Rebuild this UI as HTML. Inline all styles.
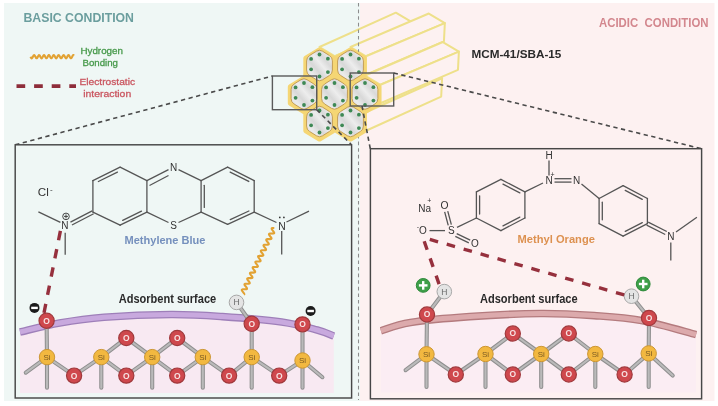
<!DOCTYPE html>
<html><head><meta charset="utf-8"><style>
html,body{margin:0;padding:0;background:#fff;}
svg{display:block;will-change:transform;}
svg text{font-family:"Liberation Sans", sans-serif;}
</style></head><body>
<svg width="718" height="406" viewBox="0 0 718 406">
<rect x="0" y="0" width="718" height="406" fill="#ffffff"/>
<rect x="4" y="3" width="356" height="398" fill="#eff7f5"/>
<rect x="360" y="3" width="354.5" height="398" fill="#fdf1f1"/>
<text x="23.5" y="22.4" font-size="13.3" fill="#6b9e9e" font-weight="bold" text-anchor="start" textLength="110.5" lengthAdjust="spacingAndGlyphs" >BASIC CONDITION</text>
<text x="599" y="26.7" font-size="12.6" fill="#d3878e" font-weight="bold" text-anchor="start" textLength="109.5" lengthAdjust="spacingAndGlyphs" >ACIDIC&#160;&#160;CONDITION</text>
<text x="471.4" y="57.9" font-size="11" fill="#2b2b2b" font-weight="bold" text-anchor="start" textLength="90" lengthAdjust="spacingAndGlyphs" >MCM-41/SBA-15</text>
<path d="M30.5 56.7 L30.75 57.2 L31 57.66 L31.25 58.01 L31.5 58.23 L31.75 58.3 L32 58.2 L32.25 57.95 L32.5 57.57 L32.75 57.11 L33 56.6 L33.25 56.1 L33.5 55.66 L33.75 55.33 L34 55.14 L34.25 55.11 L34.5 55.24 L34.75 55.52 L35 55.91 L35.25 56.39 L35.5 56.9 L35.75 57.39 L36 57.81 L36.25 58.12 L36.5 58.28 L36.75 58.28 L37 58.12 L37.25 57.81 L37.5 57.39 L37.75 56.9 L38 56.39 L38.25 55.91 L38.5 55.52 L38.75 55.24 L39 55.11 L39.25 55.14 L39.5 55.33 L39.75 55.66 L40 56.1 L40.25 56.6 L40.5 57.11 L40.75 57.57 L41 57.95 L41.25 58.2 L41.5 58.3 L41.75 58.23 L42 58.01 L42.25 57.66 L42.5 57.2 L42.75 56.7 L43 56.2 L43.25 55.74 L43.5 55.39 L43.75 55.17 L44 55.1 L44.25 55.2 L44.5 55.45 L44.75 55.83 L45 56.29 L45.25 56.8 L45.5 57.3 L45.75 57.74 L46 58.07 L46.25 58.26 L46.5 58.29 L46.75 58.16 L47 57.88 L47.25 57.49 L47.5 57.01 L47.75 56.5 L48 56.01 L48.25 55.59 L48.5 55.28 L48.75 55.12 L49 55.12 L49.25 55.28 L49.5 55.59 L49.75 56.01 L50 56.5 L50.25 57.01 L50.5 57.49 L50.75 57.88 L51 58.16 L51.25 58.29 L51.5 58.26 L51.75 58.07 L52 57.74 L52.25 57.3 L52.5 56.8 L52.75 56.29 L53 55.83 L53.25 55.45 L53.5 55.2 L53.75 55.1 L54 55.17 L54.25 55.39 L54.5 55.74 L54.75 56.2 L55 56.7 L55.25 57.2 L55.5 57.66 L55.75 58.01 L56 58.23 L56.25 58.3 L56.5 58.2 L56.75 57.95 L57 57.57 L57.25 57.11 L57.5 56.6 L57.75 56.1 L58 55.66 L58.25 55.33 L58.5 55.14 L58.75 55.11 L59 55.24 L59.25 55.52 L59.5 55.91 L59.75 56.39 L60 56.9 L60.25 57.39 L60.5 57.81 L60.75 58.12 L61 58.28 L61.25 58.28 L61.5 58.12 L61.75 57.81 L62 57.39 L62.25 56.9 L62.5 56.39 L62.75 55.91 L63 55.52 L63.25 55.24 L63.5 55.11 L63.75 55.14 L64 55.33 L64.25 55.66 L64.5 56.1 L64.75 56.6 L65 57.11 L65.25 57.57 L65.5 57.95 L65.75 58.2 L66 58.3 L66.25 58.23 L66.5 58.01 L66.75 57.66 L67 57.2 L67.25 56.7 L67.5 56.2 L67.75 55.74 L68 55.39 L68.25 55.17 L68.5 55.1 L68.75 55.2 L69 55.45 L69.25 55.83 L69.5 56.29 L69.75 56.8 L70 57.3 L70.25 57.74 L70.5 58.07 L70.75 58.26 L71 58.29 L71.25 58.16 L71.5 57.88 L71.75 57.49 L72 57.01 L72.25 56.5 L72.5 56.01 L72.75 55.59 L73 55.28 L73.25 55.12 L73.5 55.12 L73.75 55.28 L74 55.59" fill="none" stroke="#e2a233" stroke-width="2.1"/>
<text x="101.7" y="54.2" font-size="9.9" fill="#46994a" font-weight="normal" text-anchor="middle" textLength="42.5" lengthAdjust="spacingAndGlyphs" stroke="#46994a" stroke-width="0.3">Hydrogen</text>
<text x="100.2" y="65.7" font-size="9.9" fill="#46994a" font-weight="normal" text-anchor="middle" textLength="35.5" lengthAdjust="spacingAndGlyphs" stroke="#46994a" stroke-width="0.3">Bonding</text>
<line x1="16.5" y1="86.2" x2="76" y2="86.2" stroke="#8e2d3a" stroke-width="3.7" stroke-dasharray="8.7 8.9" stroke-dashoffset="0"/>
<text x="107.3" y="85.2" font-size="9.9" fill="#ca5660" font-weight="normal" text-anchor="middle" textLength="55.5" lengthAdjust="spacingAndGlyphs" stroke="#ca5660" stroke-width="0.3">Electrostatic</text>
<text x="107.2" y="97" font-size="9.9" fill="#ca5660" font-weight="normal" text-anchor="middle" textLength="48" lengthAdjust="spacingAndGlyphs" stroke="#ca5660" stroke-width="0.3">interaction</text>
<defs><linearGradient id="bgsplit" gradientUnits="userSpaceOnUse" x1="0" y1="0" x2="718" y2="0"><stop offset="0" stop-color="#eff7f5"/><stop offset="0.5014" stop-color="#eff7f5"/><stop offset="0.5014" stop-color="#fdf1f1"/><stop offset="1" stop-color="#fdf1f1"/></linearGradient><linearGradient id="hexfill" x1="0" y1="1" x2="1" y2="0"><stop offset="0" stop-color="#dedede"/><stop offset="0.22" stop-color="#ebebeb"/><stop offset="0.38" stop-color="#d8d8d8"/><stop offset="0.55" stop-color="#ededed"/><stop offset="0.7" stop-color="#d9d9d9"/><stop offset="0.85" stop-color="#eaeaea"/><stop offset="1" stop-color="#dcdcdc"/></linearGradient></defs>
<path d="M304 75.5 L319.5 84.75 L393.97 49.91 L377.93 40.36Z" fill="url(#bgsplit)" stroke="#eee08a" stroke-width="2" stroke-linejoin="round"/>
<path d="M319.5 84.75 L319.5 103.25 L393.06 68.15 L393.97 49.91Z" fill="url(#bgsplit)" stroke="#eee08a" stroke-width="2" stroke-linejoin="round"/>
<path d="M319.5 103 L335 112.25 L409.11 77.45 L393.07 67.9Z" fill="url(#bgsplit)" stroke="#eee08a" stroke-width="2" stroke-linejoin="round"/>
<path d="M335 112.25 L335 130.75 L408.2 95.69 L409.11 77.45Z" fill="url(#bgsplit)" stroke="#eee08a" stroke-width="2" stroke-linejoin="round"/>
<path d="M319.5 47 L335 56.25 L411.86 22.23 L395.83 12.68Z" fill="url(#bgsplit)" stroke="#eee08a" stroke-width="2" stroke-linejoin="round"/>
<path d="M335 56.25 L335 74.75 L410.96 40.47 L411.86 22.23Z" fill="url(#bgsplit)" stroke="#eee08a" stroke-width="2" stroke-linejoin="round"/>
<path d="M334.5 75.5 L350 84.75 L426.43 50.74 L410.39 41.2Z" fill="url(#bgsplit)" stroke="#eee08a" stroke-width="2" stroke-linejoin="round"/>
<path d="M350 84.75 L350 103.25 L425.52 68.99 L426.43 50.74Z" fill="url(#bgsplit)" stroke="#eee08a" stroke-width="2" stroke-linejoin="round"/>
<path d="M350.5 103 L366 112.25 L442.1 78.3 L426.06 68.75Z" fill="url(#bgsplit)" stroke="#eee08a" stroke-width="2" stroke-linejoin="round"/>
<path d="M366 112.25 L366 130.75 L441.19 96.54 L442.1 78.3Z" fill="url(#bgsplit)" stroke="#eee08a" stroke-width="2" stroke-linejoin="round"/>
<path d="M350.5 47 L366 56.25 L444.85 23.08 L428.81 13.53Z" fill="url(#bgsplit)" stroke="#eee08a" stroke-width="2" stroke-linejoin="round"/>
<path d="M366 56.25 L366 74.75 L443.94 41.32 L444.85 23.08Z" fill="url(#bgsplit)" stroke="#eee08a" stroke-width="2" stroke-linejoin="round"/>
<path d="M365 75.5 L380.5 84.75 L458.88 51.58 L442.84 42.03Z" fill="url(#bgsplit)" stroke="#eee08a" stroke-width="2" stroke-linejoin="round"/>
<path d="M380.5 84.75 L380.5 103.25 L457.97 69.82 L458.88 51.58Z" fill="url(#bgsplit)" stroke="#eee08a" stroke-width="2" stroke-linejoin="round"/>
<line x1="358.5" y1="3" x2="358.5" y2="400" stroke="#8d8d8d" stroke-width="1.05" stroke-dasharray="3.6 3"/>
<path d="M318.21 47.77 Q319.5 47 320.79 47.77 L334.41 55.98 Q335.7 56.75 335.7 58.25 L335.7 74.75 Q335.7 76.25 334.41 77.02 L320.79 85.23 Q319.5 86 318.21 85.23 L304.59 77.02 Q303.3 76.25 303.3 74.75 L303.3 58.25 Q303.3 56.75 304.59 55.98Z" fill="#f5d674"/>
<path d="M349.21 47.77 Q350.5 47 351.79 47.77 L365.41 55.98 Q366.7 56.75 366.7 58.25 L366.7 74.75 Q366.7 76.25 365.41 77.02 L351.79 85.23 Q350.5 86 349.21 85.23 L335.59 77.02 Q334.3 76.25 334.3 74.75 L334.3 58.25 Q334.3 56.75 335.59 55.98Z" fill="#f5d674"/>
<path d="M302.71 76.27 Q304 75.5 305.29 76.27 L318.91 84.48 Q320.2 85.25 320.2 86.75 L320.2 103.25 Q320.2 104.75 318.91 105.52 L305.29 113.73 Q304 114.5 302.71 113.73 L289.09 105.52 Q287.8 104.75 287.8 103.25 L287.8 86.75 Q287.8 85.25 289.09 84.48Z" fill="#f5d674"/>
<path d="M333.21 76.27 Q334.5 75.5 335.79 76.27 L349.41 84.48 Q350.7 85.25 350.7 86.75 L350.7 103.25 Q350.7 104.75 349.41 105.52 L335.79 113.73 Q334.5 114.5 333.21 113.73 L319.59 105.52 Q318.3 104.75 318.3 103.25 L318.3 86.75 Q318.3 85.25 319.59 84.48Z" fill="#f5d674"/>
<path d="M363.71 76.27 Q365 75.5 366.29 76.27 L379.91 84.48 Q381.2 85.25 381.2 86.75 L381.2 103.25 Q381.2 104.75 379.91 105.52 L366.29 113.73 Q365 114.5 363.71 113.73 L350.09 105.52 Q348.8 104.75 348.8 103.25 L348.8 86.75 Q348.8 85.25 350.09 84.48Z" fill="#f5d674"/>
<path d="M318.21 103.77 Q319.5 103 320.79 103.77 L334.41 111.98 Q335.7 112.75 335.7 114.25 L335.7 130.75 Q335.7 132.25 334.41 133.02 L320.79 141.23 Q319.5 142 318.21 141.23 L304.59 133.02 Q303.3 132.25 303.3 130.75 L303.3 114.25 Q303.3 112.75 304.59 111.98Z" fill="#f5d674"/>
<path d="M349.21 103.77 Q350.5 103 351.79 103.77 L365.41 111.98 Q366.7 112.75 366.7 114.25 L366.7 130.75 Q366.7 132.25 365.41 133.02 L351.79 141.23 Q350.5 142 349.21 141.23 L335.59 133.02 Q334.3 132.25 334.3 130.75 L334.3 114.25 Q334.3 112.75 335.59 111.98Z" fill="#f5d674"/>
<path d="M316.54 51.16 Q319.5 49.3 322.46 51.16 L329.44 55.54 Q332.4 57.4 332.4 60.9 L332.4 70.1 Q332.4 73.6 329.44 75.46 L322.46 79.84 Q319.5 81.7 316.54 79.84 L309.56 75.46 Q306.6 73.6 306.6 70.1 L306.6 60.9 Q306.6 57.4 309.56 55.54Z" fill="url(#hexfill)" stroke="#c39d55" stroke-width="1"/>
<circle cx="319.5" cy="54.5" r="1.9" fill="#3e8955"/>
<circle cx="311.1" cy="58.9" r="1.9" fill="#3e8955"/>
<circle cx="327.9" cy="58.7" r="1.9" fill="#3e8955"/>
<circle cx="311.1" cy="69.3" r="1.9" fill="#3e8955"/>
<circle cx="327.9" cy="72.1" r="1.9" fill="#3e8955"/>
<circle cx="319.5" cy="76.5" r="1.9" fill="#3e8955"/>
<path d="M347.54 51.16 Q350.5 49.3 353.46 51.16 L360.44 55.54 Q363.4 57.4 363.4 60.9 L363.4 70.1 Q363.4 73.6 360.44 75.46 L353.46 79.84 Q350.5 81.7 347.54 79.84 L340.56 75.46 Q337.6 73.6 337.6 70.1 L337.6 60.9 Q337.6 57.4 340.56 55.54Z" fill="url(#hexfill)" stroke="#c39d55" stroke-width="1"/>
<circle cx="350.5" cy="54.5" r="1.9" fill="#3e8955"/>
<circle cx="342.1" cy="58.9" r="1.9" fill="#3e8955"/>
<circle cx="358.9" cy="58.7" r="1.9" fill="#3e8955"/>
<circle cx="342.1" cy="69.3" r="1.9" fill="#3e8955"/>
<circle cx="358.9" cy="72.1" r="1.9" fill="#3e8955"/>
<circle cx="350.5" cy="76.5" r="1.9" fill="#3e8955"/>
<path d="M301.04 79.66 Q304 77.8 306.96 79.66 L313.94 84.04 Q316.9 85.9 316.9 89.4 L316.9 98.6 Q316.9 102.1 313.94 103.96 L306.96 108.34 Q304 110.2 301.04 108.34 L294.06 103.96 Q291.1 102.1 291.1 98.6 L291.1 89.4 Q291.1 85.9 294.06 84.04Z" fill="url(#hexfill)" stroke="#c39d55" stroke-width="1"/>
<circle cx="304" cy="83" r="1.9" fill="#3e8955"/>
<circle cx="295.6" cy="87.4" r="1.9" fill="#3e8955"/>
<circle cx="312.4" cy="87.2" r="1.9" fill="#3e8955"/>
<circle cx="295.6" cy="97.8" r="1.9" fill="#3e8955"/>
<circle cx="312.4" cy="100.6" r="1.9" fill="#3e8955"/>
<circle cx="304" cy="105" r="1.9" fill="#3e8955"/>
<path d="M331.54 79.66 Q334.5 77.8 337.46 79.66 L344.44 84.04 Q347.4 85.9 347.4 89.4 L347.4 98.6 Q347.4 102.1 344.44 103.96 L337.46 108.34 Q334.5 110.2 331.54 108.34 L324.56 103.96 Q321.6 102.1 321.6 98.6 L321.6 89.4 Q321.6 85.9 324.56 84.04Z" fill="url(#hexfill)" stroke="#c39d55" stroke-width="1"/>
<circle cx="334.5" cy="83" r="1.9" fill="#3e8955"/>
<circle cx="326.1" cy="87.4" r="1.9" fill="#3e8955"/>
<circle cx="342.9" cy="87.2" r="1.9" fill="#3e8955"/>
<circle cx="326.1" cy="97.8" r="1.9" fill="#3e8955"/>
<circle cx="342.9" cy="100.6" r="1.9" fill="#3e8955"/>
<circle cx="334.5" cy="105" r="1.9" fill="#3e8955"/>
<path d="M362.04 79.66 Q365 77.8 367.96 79.66 L374.94 84.04 Q377.9 85.9 377.9 89.4 L377.9 98.6 Q377.9 102.1 374.94 103.96 L367.96 108.34 Q365 110.2 362.04 108.34 L355.06 103.96 Q352.1 102.1 352.1 98.6 L352.1 89.4 Q352.1 85.9 355.06 84.04Z" fill="url(#hexfill)" stroke="#c39d55" stroke-width="1"/>
<circle cx="365" cy="83" r="1.9" fill="#3e8955"/>
<circle cx="356.6" cy="87.4" r="1.9" fill="#3e8955"/>
<circle cx="373.4" cy="87.2" r="1.9" fill="#3e8955"/>
<circle cx="356.6" cy="97.8" r="1.9" fill="#3e8955"/>
<circle cx="373.4" cy="100.6" r="1.9" fill="#3e8955"/>
<circle cx="365" cy="105" r="1.9" fill="#3e8955"/>
<path d="M316.54 107.16 Q319.5 105.3 322.46 107.16 L329.44 111.54 Q332.4 113.4 332.4 116.9 L332.4 126.1 Q332.4 129.6 329.44 131.46 L322.46 135.84 Q319.5 137.7 316.54 135.84 L309.56 131.46 Q306.6 129.6 306.6 126.1 L306.6 116.9 Q306.6 113.4 309.56 111.54Z" fill="url(#hexfill)" stroke="#c39d55" stroke-width="1"/>
<circle cx="319.5" cy="110.5" r="1.9" fill="#3e8955"/>
<circle cx="311.1" cy="114.9" r="1.9" fill="#3e8955"/>
<circle cx="327.9" cy="114.7" r="1.9" fill="#3e8955"/>
<circle cx="311.1" cy="125.3" r="1.9" fill="#3e8955"/>
<circle cx="327.9" cy="128.1" r="1.9" fill="#3e8955"/>
<circle cx="319.5" cy="132.5" r="1.9" fill="#3e8955"/>
<path d="M347.54 107.16 Q350.5 105.3 353.46 107.16 L360.44 111.54 Q363.4 113.4 363.4 116.9 L363.4 126.1 Q363.4 129.6 360.44 131.46 L353.46 135.84 Q350.5 137.7 347.54 135.84 L340.56 131.46 Q337.6 129.6 337.6 126.1 L337.6 116.9 Q337.6 113.4 340.56 111.54Z" fill="url(#hexfill)" stroke="#c39d55" stroke-width="1"/>
<circle cx="350.5" cy="110.5" r="1.9" fill="#3e8955"/>
<circle cx="342.1" cy="114.9" r="1.9" fill="#3e8955"/>
<circle cx="358.9" cy="114.7" r="1.9" fill="#3e8955"/>
<circle cx="342.1" cy="125.3" r="1.9" fill="#3e8955"/>
<circle cx="358.9" cy="128.1" r="1.9" fill="#3e8955"/>
<circle cx="350.5" cy="132.5" r="1.9" fill="#3e8955"/>
<rect x="272.4" y="76" width="44.3" height="33.7" fill="none" stroke="#5a5a5a" stroke-width="1.4"/>
<rect x="350.2" y="73" width="43.5" height="33" fill="none" stroke="#5a5a5a" stroke-width="1.4"/>
<line x1="15.2" y1="144.8" x2="272.4" y2="76" stroke="#4a4a4a" stroke-width="1.6" stroke-dasharray="4.3 3.5"/>
<line x1="316.7" y1="109.7" x2="351.5" y2="144.8" stroke="#4a4a4a" stroke-width="1.6" stroke-dasharray="4.3 3.5"/>
<line x1="362" y1="106" x2="370.3" y2="148.7" stroke="#4a4a4a" stroke-width="1.6" stroke-dasharray="4.3 3.5"/>
<line x1="393.7" y1="73" x2="701.6" y2="148.7" stroke="#4a4a4a" stroke-width="1.6" stroke-dasharray="4.3 3.5"/>
<rect x="15.2" y="144.8" width="336.4" height="253.2" fill="#eff7f5" stroke="#474747" stroke-width="1.45"/>
<rect x="370.4" y="148.7" width="331.2" height="250.1" fill="#fdf1f1" stroke="#474747" stroke-width="1.45"/>
<path d="M20 332 C26.6 330.5 45.6 325.47 59.6 323 C73.6 320.53 85.43 318.62 104 317.2 C122.57 315.78 151.27 314.6 171 314.5 C190.73 314.4 203.97 315.35 222.4 316.6 C240.83 317.85 265.8 319.77 281.6 322 C297.4 324.23 308.5 327.67 317.2 330 C325.9 332.33 331.03 335 333.8 336 L333.8 393 L20 393 Z" fill="#f8e9f2"/>
<path d="M20 332 C26.6 330.5 45.6 325.47 59.6 323 C73.6 320.53 85.43 318.62 104 317.2 C122.57 315.78 151.27 314.6 171 314.5 C190.73 314.4 203.97 315.35 222.4 316.6 C240.83 317.85 265.8 319.77 281.6 322 C297.4 324.23 308.5 327.67 317.2 330 C325.9 332.33 331.03 335 333.8 336" fill="none" stroke="#9e7fb9" stroke-width="7.6"/>
<path d="M20 332 C26.6 330.5 45.6 325.47 59.6 323 C73.6 320.53 85.43 318.62 104 317.2 C122.57 315.78 151.27 314.6 171 314.5 C190.73 314.4 203.97 315.35 222.4 316.6 C240.83 317.85 265.8 319.77 281.6 322 C297.4 324.23 308.5 327.67 317.2 330 C325.9 332.33 331.03 335 333.8 336" fill="none" stroke="#c8a9de" stroke-width="5"/>
<path d="M380.9 330.8 C385.83 329.42 395.68 324.87 410.5 322.5 C425.32 320.13 448.07 318.1 469.8 316.6 C491.53 315.1 520.17 313.67 540.9 313.5 C561.63 313.33 577.42 314.42 594.2 315.6 C610.98 316.78 624.62 317.43 641.6 320.6 C658.58 323.77 687.02 332.27 696.1 334.6 L696.1 392.5 L380.9 392.5 Z" fill="#fbedf3"/>
<path d="M380.9 330.8 C385.83 329.42 395.68 324.87 410.5 322.5 C425.32 320.13 448.07 318.1 469.8 316.6 C491.53 315.1 520.17 313.67 540.9 313.5 C561.63 313.33 577.42 314.42 594.2 315.6 C610.98 316.78 624.62 317.43 641.6 320.6 C658.58 323.77 687.02 332.27 696.1 334.6" fill="none" stroke="#b47b7e" stroke-width="7.6"/>
<path d="M380.9 330.8 C385.83 329.42 395.68 324.87 410.5 322.5 C425.32 320.13 448.07 318.1 469.8 316.6 C491.53 315.1 520.17 313.67 540.9 313.5 C561.63 313.33 577.42 314.42 594.2 315.6 C610.98 316.78 624.62 317.43 641.6 320.6 C658.58 323.77 687.02 332.27 696.1 334.6" fill="none" stroke="#dcaaac" stroke-width="5"/>
<line x1="47" y1="357.1" x2="47" y2="387.7" stroke="#8e8e8e" stroke-width="4.1" stroke-linecap="round"/>
<line x1="47" y1="357.1" x2="47" y2="387.7" stroke="#bababa" stroke-width="2.1" stroke-linecap="round"/>
<line x1="101.3" y1="357.1" x2="101.3" y2="387.7" stroke="#8e8e8e" stroke-width="4.1" stroke-linecap="round"/>
<line x1="101.3" y1="357.1" x2="101.3" y2="387.7" stroke="#bababa" stroke-width="2.1" stroke-linecap="round"/>
<line x1="152.2" y1="357.1" x2="152.2" y2="387.7" stroke="#8e8e8e" stroke-width="4.1" stroke-linecap="round"/>
<line x1="152.2" y1="357.1" x2="152.2" y2="387.7" stroke="#bababa" stroke-width="2.1" stroke-linecap="round"/>
<line x1="202.8" y1="357.1" x2="202.8" y2="387.7" stroke="#8e8e8e" stroke-width="4.1" stroke-linecap="round"/>
<line x1="202.8" y1="357.1" x2="202.8" y2="387.7" stroke="#bababa" stroke-width="2.1" stroke-linecap="round"/>
<line x1="251.7" y1="357.1" x2="251.7" y2="387.7" stroke="#8e8e8e" stroke-width="4.1" stroke-linecap="round"/>
<line x1="251.7" y1="357.1" x2="251.7" y2="387.7" stroke="#bababa" stroke-width="2.1" stroke-linecap="round"/>
<line x1="302.5" y1="360.5" x2="302.5" y2="387.7" stroke="#8e8e8e" stroke-width="4.1" stroke-linecap="round"/>
<line x1="302.5" y1="360.5" x2="302.5" y2="387.7" stroke="#bababa" stroke-width="2.1" stroke-linecap="round"/>
<line x1="47" y1="357.1" x2="25.8" y2="372.7" stroke="#8e8e8e" stroke-width="4.1" stroke-linecap="round"/>
<line x1="47" y1="357.1" x2="25.8" y2="372.7" stroke="#bababa" stroke-width="2.1" stroke-linecap="round"/>
<line x1="302.5" y1="360.5" x2="322.4" y2="377.2" stroke="#8e8e8e" stroke-width="4.1" stroke-linecap="round"/>
<line x1="302.5" y1="360.5" x2="322.4" y2="377.2" stroke="#bababa" stroke-width="2.1" stroke-linecap="round"/>
<line x1="47" y1="357.1" x2="46.6" y2="320.8" stroke="#8e8e8e" stroke-width="4.1" stroke-linecap="round"/>
<line x1="47" y1="357.1" x2="46.6" y2="320.8" stroke="#bababa" stroke-width="2.1" stroke-linecap="round"/>
<line x1="251.7" y1="357.1" x2="251.7" y2="323.8" stroke="#8e8e8e" stroke-width="4.1" stroke-linecap="round"/>
<line x1="251.7" y1="357.1" x2="251.7" y2="323.8" stroke="#bababa" stroke-width="2.1" stroke-linecap="round"/>
<line x1="302.5" y1="360.5" x2="302.5" y2="324.4" stroke="#8e8e8e" stroke-width="4.1" stroke-linecap="round"/>
<line x1="302.5" y1="360.5" x2="302.5" y2="324.4" stroke="#bababa" stroke-width="2.1" stroke-linecap="round"/>
<line x1="251.7" y1="323.8" x2="236.5" y2="302.4" stroke="#8e8e8e" stroke-width="4.1" stroke-linecap="round"/>
<line x1="251.7" y1="323.8" x2="236.5" y2="302.4" stroke="#bababa" stroke-width="2.1" stroke-linecap="round"/>
<line x1="47" y1="357.1" x2="74.1" y2="375.6" stroke="#8e8e8e" stroke-width="4.1" stroke-linecap="round"/>
<line x1="47" y1="357.1" x2="74.1" y2="375.6" stroke="#bababa" stroke-width="2.1" stroke-linecap="round"/>
<line x1="74.1" y1="375.6" x2="101.3" y2="357.1" stroke="#8e8e8e" stroke-width="4.1" stroke-linecap="round"/>
<line x1="74.1" y1="375.6" x2="101.3" y2="357.1" stroke="#bababa" stroke-width="2.1" stroke-linecap="round"/>
<line x1="101.3" y1="357.1" x2="126.3" y2="338" stroke="#8e8e8e" stroke-width="4.1" stroke-linecap="round"/>
<line x1="101.3" y1="357.1" x2="126.3" y2="338" stroke="#bababa" stroke-width="2.1" stroke-linecap="round"/>
<line x1="126.3" y1="338" x2="152.2" y2="357.1" stroke="#8e8e8e" stroke-width="4.1" stroke-linecap="round"/>
<line x1="126.3" y1="338" x2="152.2" y2="357.1" stroke="#bababa" stroke-width="2.1" stroke-linecap="round"/>
<line x1="101.3" y1="357.1" x2="126.3" y2="375.6" stroke="#8e8e8e" stroke-width="4.1" stroke-linecap="round"/>
<line x1="101.3" y1="357.1" x2="126.3" y2="375.6" stroke="#bababa" stroke-width="2.1" stroke-linecap="round"/>
<line x1="126.3" y1="375.6" x2="152.2" y2="357.1" stroke="#8e8e8e" stroke-width="4.1" stroke-linecap="round"/>
<line x1="126.3" y1="375.6" x2="152.2" y2="357.1" stroke="#bababa" stroke-width="2.1" stroke-linecap="round"/>
<line x1="152.2" y1="357.1" x2="177.2" y2="338" stroke="#8e8e8e" stroke-width="4.1" stroke-linecap="round"/>
<line x1="152.2" y1="357.1" x2="177.2" y2="338" stroke="#bababa" stroke-width="2.1" stroke-linecap="round"/>
<line x1="177.2" y1="338" x2="202.8" y2="357.1" stroke="#8e8e8e" stroke-width="4.1" stroke-linecap="round"/>
<line x1="177.2" y1="338" x2="202.8" y2="357.1" stroke="#bababa" stroke-width="2.1" stroke-linecap="round"/>
<line x1="152.2" y1="357.1" x2="177.2" y2="375.6" stroke="#8e8e8e" stroke-width="4.1" stroke-linecap="round"/>
<line x1="152.2" y1="357.1" x2="177.2" y2="375.6" stroke="#bababa" stroke-width="2.1" stroke-linecap="round"/>
<line x1="177.2" y1="375.6" x2="202.8" y2="357.1" stroke="#8e8e8e" stroke-width="4.1" stroke-linecap="round"/>
<line x1="177.2" y1="375.6" x2="202.8" y2="357.1" stroke="#bababa" stroke-width="2.1" stroke-linecap="round"/>
<line x1="202.8" y1="357.1" x2="229.1" y2="375.6" stroke="#8e8e8e" stroke-width="4.1" stroke-linecap="round"/>
<line x1="202.8" y1="357.1" x2="229.1" y2="375.6" stroke="#bababa" stroke-width="2.1" stroke-linecap="round"/>
<line x1="229.1" y1="375.6" x2="251.7" y2="357.1" stroke="#8e8e8e" stroke-width="4.1" stroke-linecap="round"/>
<line x1="229.1" y1="375.6" x2="251.7" y2="357.1" stroke="#bababa" stroke-width="2.1" stroke-linecap="round"/>
<line x1="251.7" y1="357.1" x2="279.2" y2="375.6" stroke="#8e8e8e" stroke-width="4.1" stroke-linecap="round"/>
<line x1="251.7" y1="357.1" x2="279.2" y2="375.6" stroke="#bababa" stroke-width="2.1" stroke-linecap="round"/>
<line x1="279.2" y1="375.6" x2="302.5" y2="360.5" stroke="#8e8e8e" stroke-width="4.1" stroke-linecap="round"/>
<line x1="279.2" y1="375.6" x2="302.5" y2="360.5" stroke="#bababa" stroke-width="2.1" stroke-linecap="round"/>
<circle cx="126.3" cy="338" r="7.6" fill="#cf484d" stroke="#a0393c" stroke-width="1.2"/>
<text x="126.3" y="340.9" font-size="8.5" fill="#f7e2e2" text-anchor="middle" font-weight="bold">O</text>
<circle cx="177.2" cy="338" r="7.6" fill="#cf484d" stroke="#a0393c" stroke-width="1.2"/>
<text x="177.2" y="340.9" font-size="8.5" fill="#f7e2e2" text-anchor="middle" font-weight="bold">O</text>
<circle cx="74.1" cy="375.6" r="7.6" fill="#cf484d" stroke="#a0393c" stroke-width="1.2"/>
<text x="74.1" y="378.5" font-size="8.5" fill="#f7e2e2" text-anchor="middle" font-weight="bold">O</text>
<circle cx="126.3" cy="375.6" r="7.6" fill="#cf484d" stroke="#a0393c" stroke-width="1.2"/>
<text x="126.3" y="378.5" font-size="8.5" fill="#f7e2e2" text-anchor="middle" font-weight="bold">O</text>
<circle cx="177.2" cy="375.6" r="7.6" fill="#cf484d" stroke="#a0393c" stroke-width="1.2"/>
<text x="177.2" y="378.5" font-size="8.5" fill="#f7e2e2" text-anchor="middle" font-weight="bold">O</text>
<circle cx="229.1" cy="375.6" r="7.6" fill="#cf484d" stroke="#a0393c" stroke-width="1.2"/>
<text x="229.1" y="378.5" font-size="8.5" fill="#f7e2e2" text-anchor="middle" font-weight="bold">O</text>
<circle cx="279.2" cy="375.6" r="7.6" fill="#cf484d" stroke="#a0393c" stroke-width="1.2"/>
<text x="279.2" y="378.5" font-size="8.5" fill="#f7e2e2" text-anchor="middle" font-weight="bold">O</text>
<circle cx="46.6" cy="320.8" r="7.6" fill="#cf484d" stroke="#a0393c" stroke-width="1.2"/>
<text x="46.6" y="323.7" font-size="8.5" fill="#f7e2e2" text-anchor="middle" font-weight="bold">O</text>
<circle cx="251.7" cy="323.8" r="7.6" fill="#cf484d" stroke="#a0393c" stroke-width="1.2"/>
<text x="251.7" y="326.7" font-size="8.5" fill="#f7e2e2" text-anchor="middle" font-weight="bold">O</text>
<circle cx="302.5" cy="324.4" r="7.6" fill="#cf484d" stroke="#a0393c" stroke-width="1.2"/>
<text x="302.5" y="327.3" font-size="8.5" fill="#f7e2e2" text-anchor="middle" font-weight="bold">O</text>
<circle cx="47" cy="357.1" r="7.7" fill="#f2b840" stroke="#cc9633" stroke-width="1"/>
<text x="47" y="359.9" font-size="8" fill="#7a5a22" text-anchor="middle">Si</text>
<circle cx="101.3" cy="357.1" r="7.7" fill="#f2b840" stroke="#cc9633" stroke-width="1"/>
<text x="101.3" y="359.9" font-size="8" fill="#7a5a22" text-anchor="middle">Si</text>
<circle cx="152.2" cy="357.1" r="7.7" fill="#f2b840" stroke="#cc9633" stroke-width="1"/>
<text x="152.2" y="359.9" font-size="8" fill="#7a5a22" text-anchor="middle">Si</text>
<circle cx="202.8" cy="357.1" r="7.7" fill="#f2b840" stroke="#cc9633" stroke-width="1"/>
<text x="202.8" y="359.9" font-size="8" fill="#7a5a22" text-anchor="middle">Si</text>
<circle cx="251.7" cy="357.1" r="7.7" fill="#f2b840" stroke="#cc9633" stroke-width="1"/>
<text x="251.7" y="359.9" font-size="8" fill="#7a5a22" text-anchor="middle">Si</text>
<circle cx="302.5" cy="360.5" r="7.7" fill="#f2b840" stroke="#cc9633" stroke-width="1"/>
<text x="302.5" y="363.3" font-size="8" fill="#7a5a22" text-anchor="middle">Si</text>
<circle cx="236.5" cy="302.4" r="7.3" fill="#e4e4e4" stroke="#a8a8a8" stroke-width="1"/>
<text x="236.5" y="305.4" font-size="8.5" fill="#6a6a6a" text-anchor="middle">H</text>
<circle cx="34.5" cy="307.9" r="5" fill="#1b1b1b"/>
<rect x="31.2" y="306.7" width="6.6" height="2.4" fill="#fff"/>
<circle cx="310.6" cy="311" r="5" fill="#1b1b1b"/>
<rect x="307.3" y="309.8" width="6.6" height="2.4" fill="#fff"/>
<line x1="426.5" y1="354.3" x2="426.5" y2="387" stroke="#8e8e8e" stroke-width="4.1" stroke-linecap="round"/>
<line x1="426.5" y1="354.3" x2="426.5" y2="387" stroke="#bababa" stroke-width="2.1" stroke-linecap="round"/>
<line x1="485.5" y1="354" x2="485.5" y2="387" stroke="#8e8e8e" stroke-width="4.1" stroke-linecap="round"/>
<line x1="485.5" y1="354" x2="485.5" y2="387" stroke="#bababa" stroke-width="2.1" stroke-linecap="round"/>
<line x1="541.2" y1="354" x2="541.2" y2="387" stroke="#8e8e8e" stroke-width="4.1" stroke-linecap="round"/>
<line x1="541.2" y1="354" x2="541.2" y2="387" stroke="#bababa" stroke-width="2.1" stroke-linecap="round"/>
<line x1="595.3" y1="354" x2="595.3" y2="387" stroke="#8e8e8e" stroke-width="4.1" stroke-linecap="round"/>
<line x1="595.3" y1="354" x2="595.3" y2="387" stroke="#bababa" stroke-width="2.1" stroke-linecap="round"/>
<line x1="648.7" y1="353.4" x2="648.7" y2="387" stroke="#8e8e8e" stroke-width="4.1" stroke-linecap="round"/>
<line x1="648.7" y1="353.4" x2="648.7" y2="387" stroke="#bababa" stroke-width="2.1" stroke-linecap="round"/>
<line x1="426.5" y1="354.3" x2="405.6" y2="370.2" stroke="#8e8e8e" stroke-width="4.1" stroke-linecap="round"/>
<line x1="426.5" y1="354.3" x2="405.6" y2="370.2" stroke="#bababa" stroke-width="2.1" stroke-linecap="round"/>
<line x1="648.7" y1="353.4" x2="672.7" y2="375.6" stroke="#8e8e8e" stroke-width="4.1" stroke-linecap="round"/>
<line x1="648.7" y1="353.4" x2="672.7" y2="375.6" stroke="#bababa" stroke-width="2.1" stroke-linecap="round"/>
<line x1="426.5" y1="354.3" x2="427" y2="314.5" stroke="#8e8e8e" stroke-width="4.1" stroke-linecap="round"/>
<line x1="426.5" y1="354.3" x2="427" y2="314.5" stroke="#bababa" stroke-width="2.1" stroke-linecap="round"/>
<line x1="648.7" y1="353.4" x2="649" y2="318" stroke="#8e8e8e" stroke-width="4.1" stroke-linecap="round"/>
<line x1="648.7" y1="353.4" x2="649" y2="318" stroke="#bababa" stroke-width="2.1" stroke-linecap="round"/>
<line x1="427" y1="314.5" x2="444.3" y2="291.6" stroke="#8e8e8e" stroke-width="4.1" stroke-linecap="round"/>
<line x1="427" y1="314.5" x2="444.3" y2="291.6" stroke="#bababa" stroke-width="2.1" stroke-linecap="round"/>
<line x1="649" y1="318" x2="631.5" y2="296.2" stroke="#8e8e8e" stroke-width="4.1" stroke-linecap="round"/>
<line x1="649" y1="318" x2="631.5" y2="296.2" stroke="#bababa" stroke-width="2.1" stroke-linecap="round"/>
<line x1="426.5" y1="354.3" x2="455.8" y2="374.5" stroke="#8e8e8e" stroke-width="4.1" stroke-linecap="round"/>
<line x1="426.5" y1="354.3" x2="455.8" y2="374.5" stroke="#bababa" stroke-width="2.1" stroke-linecap="round"/>
<line x1="455.8" y1="374.5" x2="485.5" y2="354" stroke="#8e8e8e" stroke-width="4.1" stroke-linecap="round"/>
<line x1="455.8" y1="374.5" x2="485.5" y2="354" stroke="#bababa" stroke-width="2.1" stroke-linecap="round"/>
<line x1="485.5" y1="354" x2="512.8" y2="333.5" stroke="#8e8e8e" stroke-width="4.1" stroke-linecap="round"/>
<line x1="485.5" y1="354" x2="512.8" y2="333.5" stroke="#bababa" stroke-width="2.1" stroke-linecap="round"/>
<line x1="512.8" y1="333.5" x2="541.2" y2="354" stroke="#8e8e8e" stroke-width="4.1" stroke-linecap="round"/>
<line x1="512.8" y1="333.5" x2="541.2" y2="354" stroke="#bababa" stroke-width="2.1" stroke-linecap="round"/>
<line x1="485.5" y1="354" x2="512.8" y2="374.5" stroke="#8e8e8e" stroke-width="4.1" stroke-linecap="round"/>
<line x1="485.5" y1="354" x2="512.8" y2="374.5" stroke="#bababa" stroke-width="2.1" stroke-linecap="round"/>
<line x1="512.8" y1="374.5" x2="541.2" y2="354" stroke="#8e8e8e" stroke-width="4.1" stroke-linecap="round"/>
<line x1="512.8" y1="374.5" x2="541.2" y2="354" stroke="#bababa" stroke-width="2.1" stroke-linecap="round"/>
<line x1="541.2" y1="354" x2="568.8" y2="333.5" stroke="#8e8e8e" stroke-width="4.1" stroke-linecap="round"/>
<line x1="541.2" y1="354" x2="568.8" y2="333.5" stroke="#bababa" stroke-width="2.1" stroke-linecap="round"/>
<line x1="568.8" y1="333.5" x2="595.3" y2="354" stroke="#8e8e8e" stroke-width="4.1" stroke-linecap="round"/>
<line x1="568.8" y1="333.5" x2="595.3" y2="354" stroke="#bababa" stroke-width="2.1" stroke-linecap="round"/>
<line x1="541.2" y1="354" x2="568.8" y2="374.5" stroke="#8e8e8e" stroke-width="4.1" stroke-linecap="round"/>
<line x1="541.2" y1="354" x2="568.8" y2="374.5" stroke="#bababa" stroke-width="2.1" stroke-linecap="round"/>
<line x1="568.8" y1="374.5" x2="595.3" y2="354" stroke="#8e8e8e" stroke-width="4.1" stroke-linecap="round"/>
<line x1="568.8" y1="374.5" x2="595.3" y2="354" stroke="#bababa" stroke-width="2.1" stroke-linecap="round"/>
<line x1="595.3" y1="354" x2="624.6" y2="374.5" stroke="#8e8e8e" stroke-width="4.1" stroke-linecap="round"/>
<line x1="595.3" y1="354" x2="624.6" y2="374.5" stroke="#bababa" stroke-width="2.1" stroke-linecap="round"/>
<line x1="624.6" y1="374.5" x2="648.7" y2="353.4" stroke="#8e8e8e" stroke-width="4.1" stroke-linecap="round"/>
<line x1="624.6" y1="374.5" x2="648.7" y2="353.4" stroke="#bababa" stroke-width="2.1" stroke-linecap="round"/>
<circle cx="512.8" cy="333.5" r="7.6" fill="#cf484d" stroke="#a0393c" stroke-width="1.2"/>
<text x="512.8" y="336.4" font-size="8.5" fill="#f7e2e2" text-anchor="middle" font-weight="bold">O</text>
<circle cx="568.8" cy="333.5" r="7.6" fill="#cf484d" stroke="#a0393c" stroke-width="1.2"/>
<text x="568.8" y="336.4" font-size="8.5" fill="#f7e2e2" text-anchor="middle" font-weight="bold">O</text>
<circle cx="455.8" cy="374.5" r="7.6" fill="#cf484d" stroke="#a0393c" stroke-width="1.2"/>
<text x="455.8" y="377.4" font-size="8.5" fill="#f7e2e2" text-anchor="middle" font-weight="bold">O</text>
<circle cx="512.8" cy="374.5" r="7.6" fill="#cf484d" stroke="#a0393c" stroke-width="1.2"/>
<text x="512.8" y="377.4" font-size="8.5" fill="#f7e2e2" text-anchor="middle" font-weight="bold">O</text>
<circle cx="568.8" cy="374.5" r="7.6" fill="#cf484d" stroke="#a0393c" stroke-width="1.2"/>
<text x="568.8" y="377.4" font-size="8.5" fill="#f7e2e2" text-anchor="middle" font-weight="bold">O</text>
<circle cx="624.6" cy="374.5" r="7.6" fill="#cf484d" stroke="#a0393c" stroke-width="1.2"/>
<text x="624.6" y="377.4" font-size="8.5" fill="#f7e2e2" text-anchor="middle" font-weight="bold">O</text>
<circle cx="427" cy="314.5" r="7.6" fill="#cf484d" stroke="#a0393c" stroke-width="1.2"/>
<text x="427" y="317.4" font-size="8.5" fill="#f7e2e2" text-anchor="middle" font-weight="bold">O</text>
<circle cx="649" cy="318" r="7.6" fill="#cf484d" stroke="#a0393c" stroke-width="1.2"/>
<text x="649" y="320.9" font-size="8.5" fill="#f7e2e2" text-anchor="middle" font-weight="bold">O</text>
<circle cx="426.5" cy="354.3" r="7.7" fill="#f2b840" stroke="#cc9633" stroke-width="1"/>
<text x="426.5" y="357.1" font-size="8" fill="#7a5a22" text-anchor="middle">Si</text>
<circle cx="485.5" cy="354" r="7.7" fill="#f2b840" stroke="#cc9633" stroke-width="1"/>
<text x="485.5" y="356.8" font-size="8" fill="#7a5a22" text-anchor="middle">Si</text>
<circle cx="541.2" cy="354" r="7.7" fill="#f2b840" stroke="#cc9633" stroke-width="1"/>
<text x="541.2" y="356.8" font-size="8" fill="#7a5a22" text-anchor="middle">Si</text>
<circle cx="595.3" cy="354" r="7.7" fill="#f2b840" stroke="#cc9633" stroke-width="1"/>
<text x="595.3" y="356.8" font-size="8" fill="#7a5a22" text-anchor="middle">Si</text>
<circle cx="648.7" cy="353.4" r="7.7" fill="#f2b840" stroke="#cc9633" stroke-width="1"/>
<text x="648.7" y="356.2" font-size="8" fill="#7a5a22" text-anchor="middle">Si</text>
<circle cx="444.3" cy="291.6" r="7.3" fill="#e4e4e4" stroke="#a8a8a8" stroke-width="1"/>
<text x="444.3" y="294.6" font-size="8.5" fill="#6a6a6a" text-anchor="middle">H</text>
<circle cx="631.5" cy="296.2" r="7.3" fill="#e4e4e4" stroke="#a8a8a8" stroke-width="1"/>
<text x="631.5" y="299.2" font-size="8.5" fill="#6a6a6a" text-anchor="middle">H</text>
<circle cx="423.2" cy="285.4" r="6.9" fill="#3e9f48" stroke="#2f8a3c" stroke-width="1"/>
<rect x="418.9" y="284.2" width="8.6" height="2.4" fill="#fff"/>
<rect x="422" y="281.1" width="2.4" height="8.6" fill="#fff"/>
<circle cx="643.2" cy="284" r="6.9" fill="#3e9f48" stroke="#2f8a3c" stroke-width="1"/>
<rect x="638.9" y="282.8" width="8.6" height="2.4" fill="#fff"/>
<rect x="642" y="279.7" width="2.4" height="8.6" fill="#fff"/>
<text x="118.7" y="302.9" font-size="12" fill="#2a2a2a" font-weight="bold" text-anchor="start" textLength="97.5" lengthAdjust="spacingAndGlyphs" >Adsorbent surface</text>
<text x="480" y="303" font-size="12" fill="#2a2a2a" font-weight="bold" text-anchor="start" textLength="97.6" lengthAdjust="spacingAndGlyphs" >Adsorbent surface</text>
<line x1="60.4" y1="230.9" x2="44" y2="312.8" stroke="#96303d" stroke-width="3.4" stroke-dasharray="9.5 9.1"/>
<line x1="424.2" y1="241.2" x2="439.6" y2="285.6" stroke="#96303d" stroke-width="3.4" stroke-dasharray="9 9.2"/>
<line x1="429.8" y1="239.4" x2="624.8" y2="295.1" stroke="#96303d" stroke-width="3.4" stroke-dasharray="8.6 9"/>
<path d="M274.3 228 L273.72 227.99 L273.16 228 L272.67 228.04 L272.26 228.12 L271.95 228.25 L271.76 228.43 L271.68 228.68 L271.73 228.98 L271.89 229.33 L272.13 229.73 L272.45 230.17 L272.81 230.62 L273.17 231.08 L273.52 231.53 L273.82 231.95 L274.05 232.34 L274.17 232.68 L274.19 232.97 L274.09 233.2 L273.86 233.37 L273.52 233.48 L273.09 233.55 L272.57 233.57 L272.01 233.58 L271.42 233.57 L270.84 233.57 L270.3 233.58 L269.83 233.63 L269.44 233.72 L269.16 233.86 L269.01 234.07 L268.97 234.33 L269.04 234.64 L269.23 235.01 L269.5 235.42 L269.83 235.86 L270.19 236.32 L270.55 236.77 L270.89 237.22 L271.17 237.63 L271.37 238.01 L271.47 238.34 L271.46 238.61 L271.32 238.82 L271.06 238.97 L270.7 239.07 L270.24 239.13 L269.71 239.15 L269.13 239.15 L268.54 239.14 L267.97 239.14 L267.45 239.16 L266.99 239.22 L266.64 239.33 L266.39 239.49 L266.26 239.7 L266.26 239.98 L266.37 240.31 L266.57 240.69 L266.86 241.11 L267.2 241.56 L267.57 242.01 L267.93 242.47 L268.26 242.91 L268.52 243.31 L268.69 243.68 L268.76 243.99 L268.71 244.24 L268.54 244.44 L268.25 244.58 L267.86 244.67 L267.38 244.71 L266.83 244.72 L266.25 244.72 L265.67 244.71 L265.1 244.72 L264.6 244.75 L264.17 244.82 L263.84 244.94 L263.63 245.11 L263.53 245.34 L263.56 245.64 L263.7 245.98 L263.93 246.37 L264.23 246.8 L264.58 247.25 L264.95 247.71 L265.31 248.16 L265.62 248.59 L265.86 248.99 L266 249.34 L266.04 249.64 L265.96 249.88 L265.76 250.06 L265.44 250.18 L265.02 250.25 L264.52 250.29 L263.96 250.3 L263.37 250.29 L262.79 250.28 L262.24 250.29 L261.75 250.33 L261.35 250.42 L261.05 250.55 L260.87 250.74 L260.81 250.99 L260.87 251.3 L261.03 251.66 L261.29 252.06 L261.61 252.49 L261.97 252.95 L262.33 253.41 L262.68 253.85 L262.97 254.28 L263.19 254.66 L263.31 255 L263.31 255.28 L263.2 255.5 L262.96 255.67 L262.62 255.78 L262.17 255.84 L261.65 255.86 L261.08 255.87 L260.5 255.86 L259.92 255.86 L259.38 255.87 L258.92 255.92 L258.54 256.02 L258.27 256.17 L258.12 256.37 L258.1 256.64 L258.18 256.96 L258.37 257.33 L258.65 257.75 L258.98 258.19 L259.35 258.65 L259.71 259.1 L260.05 259.54 L260.32 259.96 L260.51 260.33 L260.6 260.65 L260.57 260.92 L260.43 261.13 L260.16 261.27 L259.79 261.37 L259.32 261.42 L258.78 261.44 L258.21 261.44 L257.62 261.43 L257.05 261.43 L256.53 261.46 L256.09 261.52 L255.74 261.63 L255.5 261.79 L255.39 262.01 L255.39 262.29 L255.51 262.63 L255.72 263.01 L256.02 263.44 L256.36 263.88 L256.73 264.34 L257.09 264.8 L257.41 265.23 L257.66 265.64 L257.83 266 L257.89 266.3 L257.83 266.55 L257.65 266.74 L257.35 266.88 L256.95 266.96 L256.46 267 L255.91 267.01 L255.33 267.01 L254.74 267 L254.18 267.01 L253.68 267.04 L253.26 267.11 L252.94 267.24 L252.74 267.42 L252.66 267.66 L252.69 267.95 L252.84 268.3 L253.08 268.7 L253.39 269.13 L253.74 269.58 L254.11 270.04 L254.46 270.49 L254.77 270.92 L255 271.31 L255.14 271.66 L255.17 271.95 L255.07 272.18 L254.86 272.36 L254.53 272.48 L254.1 272.55 L253.6 272.58 L253.04 272.58 L252.45 272.58 L251.87 272.57 L251.32 272.59 L250.84 272.63 L250.45 272.72 L250.16 272.85 L249.99 273.05 L249.94 273.3 L250 273.62 L250.18 273.98 L250.44 274.39 L250.76 274.82 L251.12 275.28 L251.49 275.74 L251.83 276.18 L252.12 276.6 L252.33 276.98 L252.44 277.31 L252.43 277.59 L252.31 277.81 L252.06 277.97 L251.71 278.07 L251.26 278.13 L250.73 278.15 L250.16 278.15 L249.57 278.15 L249 278.15 L248.47 278.17 L248.01 278.22 L247.64 278.32 L247.38 278.47 L247.24 278.68 L247.23 278.96 L247.32 279.28 L247.52 279.66 L247.8 280.07 L248.14 280.52 L248.51 280.97 L248.87 281.43 L249.2 281.87 L249.47 282.28 L249.65 282.65 L249.73 282.97 L249.69 283.23 L249.53 283.43 L249.26 283.57 L248.87 283.67 L248.4 283.71 L247.86 283.73 L247.28 283.73 L246.69 283.72 L246.13 283.72 L245.61 283.75 L245.18 283.81 L244.84 283.93 L244.61 284.1 L244.51 284.32 L244.52 284.61 L244.65 284.95 L244.87 285.34 L245.17 285.76 L245.52 286.21 L245.89 286.67 L246.25 287.13 L246.56 287.56 L246.81 287.96 L246.97 288.31 L247.01 288.62 L246.94 288.86 L246.75 289.05 L246.45 289.18 L246.03 289.25 L245.54 289.29 L244.99 289.3 L244.4 289.3 L243.82 289.29 L243.26 289.3 L242.77 289.33 L242.36 289.41 L242.05 289.54 L241.85 289.73 L241.78 289.97 L241.83 290.27 L241.98 290.63 L242.23 291.02 L242.54 291.46 L242.9 291.91 L243.27 292.37 L243.62 292.82 L243.92 293.24 L244.14 293.63 L244.27 293.97 L244.29 294.26 L244.19 294.49 L243.96 294.66" fill="none" stroke="#e2a233" stroke-width="2.1"/>
<line x1="120.1" y1="167.2" x2="146.9" y2="180.6" stroke="#555" stroke-width="1.3" stroke-linecap="round"/>
<line x1="146.9" y1="180.6" x2="146.9" y2="212.1" stroke="#555" stroke-width="1.3" stroke-linecap="round"/>
<line x1="146.9" y1="212.1" x2="120.1" y2="225.2" stroke="#555" stroke-width="1.3" stroke-linecap="round"/>
<line x1="141.47" y1="211.19" x2="122.71" y2="220.36" stroke="#555" stroke-width="1.3" stroke-linecap="round"/>
<line x1="120.1" y1="225.2" x2="92.9" y2="212.1" stroke="#555" stroke-width="1.3" stroke-linecap="round"/>
<line x1="92.9" y1="212.1" x2="92.9" y2="180.6" stroke="#555" stroke-width="1.3" stroke-linecap="round"/>
<line x1="92.9" y1="180.6" x2="120.1" y2="167.2" stroke="#555" stroke-width="1.3" stroke-linecap="round"/>
<line x1="98.39" y1="181.46" x2="117.43" y2="172.08" stroke="#555" stroke-width="1.3" stroke-linecap="round"/>
<line x1="227.6" y1="167.2" x2="254.2" y2="180.6" stroke="#555" stroke-width="1.3" stroke-linecap="round"/>
<line x1="230.15" y1="172.07" x2="248.77" y2="181.45" stroke="#555" stroke-width="1.3" stroke-linecap="round"/>
<line x1="254.2" y1="180.6" x2="254.2" y2="212.1" stroke="#555" stroke-width="1.3" stroke-linecap="round"/>
<line x1="254.2" y1="212.1" x2="227.6" y2="224.3" stroke="#555" stroke-width="1.3" stroke-linecap="round"/>
<line x1="248.88" y1="211.02" x2="230.26" y2="219.56" stroke="#555" stroke-width="1.3" stroke-linecap="round"/>
<line x1="227.6" y1="224.3" x2="201.1" y2="212.1" stroke="#555" stroke-width="1.3" stroke-linecap="round"/>
<line x1="201.1" y1="212.1" x2="201.1" y2="180.6" stroke="#555" stroke-width="1.3" stroke-linecap="round"/>
<line x1="204.3" y1="207.38" x2="204.3" y2="185.32" stroke="#555" stroke-width="1.3" stroke-linecap="round"/>
<line x1="201.1" y1="180.6" x2="227.6" y2="167.2" stroke="#555" stroke-width="1.3" stroke-linecap="round"/>
<line x1="146.9" y1="180.6" x2="168.5" y2="169.6" stroke="#555" stroke-width="1.3" />
<line x1="149.5" y1="185.5" x2="168.5" y2="175.5" stroke="#555" stroke-width="1.3" />
<line x1="178.5" y1="169.6" x2="201.1" y2="180.6" stroke="#555" stroke-width="1.3" />
<line x1="146.9" y1="212.1" x2="168.5" y2="222.5" stroke="#555" stroke-width="1.3" />
<line x1="178.5" y1="222.5" x2="201.1" y2="212.1" stroke="#555" stroke-width="1.3" />
<text x="173.5" y="171.3" font-size="10" fill="#333" font-weight="normal" text-anchor="middle" >N</text>
<text x="173.5" y="229" font-size="10" fill="#333" font-weight="normal" text-anchor="middle" >S</text>
<line x1="254.2" y1="212.1" x2="276.5" y2="222.5" stroke="#555" stroke-width="1.3" />
<text x="282" y="229.6" font-size="10.3" fill="#333" font-weight="normal" text-anchor="middle" >N</text>
<circle cx="279.8" cy="217.4" r="0.85" fill="#333"/><circle cx="283.9" cy="217.4" r="0.85" fill="#333"/>
<line x1="286.5" y1="222" x2="309" y2="211.2" stroke="#555" stroke-width="1.3" />
<line x1="281.7" y1="231" x2="281.7" y2="254.4" stroke="#555" stroke-width="1.3" />
<line x1="71.94" y1="225.02" x2="93.64" y2="213.72" stroke="#555" stroke-width="1.3" />
<line x1="70.46" y1="222.18" x2="92.16" y2="210.88" stroke="#555" stroke-width="1.3" />
<text x="64.8" y="229.4" font-size="10" fill="#333" font-weight="normal" text-anchor="middle" >N</text>
<circle cx="66" cy="216.4" r="3.3" fill="none" stroke="#333" stroke-width="0.9"/>
<line x1="64" y1="216.4" x2="68" y2="216.4" stroke="#333" stroke-width="0.9" />
<line x1="66" y1="214.4" x2="66" y2="218.4" stroke="#333" stroke-width="0.9" />
<line x1="38.4" y1="211.8" x2="60.4" y2="222.3" stroke="#555" stroke-width="1.3" />
<line x1="65.2" y1="232.7" x2="65.2" y2="254.7" stroke="#555" stroke-width="1.3" />
<text x="37.8" y="196.2" font-size="11" fill="#333" font-weight="normal" text-anchor="start" textLength="11" lengthAdjust="spacingAndGlyphs" >Cl</text>
<text x="50" y="191.5" font-size="8" fill="#333" font-weight="normal" text-anchor="start" >-</text>
<text x="124.5" y="244.3" font-size="11.7" fill="#7590bd" font-weight="bold" text-anchor="start" textLength="81" lengthAdjust="spacingAndGlyphs" >Methylene Blue</text>
<line x1="500.9" y1="179.4" x2="524.9" y2="191.9" stroke="#555" stroke-width="1.3" stroke-linecap="round"/>
<line x1="503.02" y1="184.11" x2="519.82" y2="192.86" stroke="#555" stroke-width="1.3" stroke-linecap="round"/>
<line x1="524.9" y1="191.9" x2="524.9" y2="218" stroke="#555" stroke-width="1.3" stroke-linecap="round"/>
<line x1="524.9" y1="218" x2="500.9" y2="230.6" stroke="#555" stroke-width="1.3" stroke-linecap="round"/>
<line x1="519.81" y1="217.06" x2="503.01" y2="225.88" stroke="#555" stroke-width="1.3" stroke-linecap="round"/>
<line x1="500.9" y1="230.6" x2="476.4" y2="218" stroke="#555" stroke-width="1.3" stroke-linecap="round"/>
<line x1="476.4" y1="218" x2="476.4" y2="191.9" stroke="#555" stroke-width="1.3" stroke-linecap="round"/>
<line x1="479.6" y1="214.09" x2="479.6" y2="195.81" stroke="#555" stroke-width="1.3" stroke-linecap="round"/>
<line x1="476.4" y1="191.9" x2="500.9" y2="179.4" stroke="#555" stroke-width="1.3" stroke-linecap="round"/>
<line x1="623.1" y1="185.6" x2="647.4" y2="198.5" stroke="#555" stroke-width="1.3" stroke-linecap="round"/>
<line x1="625.24" y1="190.36" x2="642.25" y2="199.39" stroke="#555" stroke-width="1.3" stroke-linecap="round"/>
<line x1="647.4" y1="198.5" x2="647.4" y2="223.6" stroke="#555" stroke-width="1.3" stroke-linecap="round"/>
<line x1="647.4" y1="223.6" x2="623.1" y2="236.1" stroke="#555" stroke-width="1.3" stroke-linecap="round"/>
<line x1="642.29" y1="222.63" x2="625.28" y2="231.38" stroke="#555" stroke-width="1.3" stroke-linecap="round"/>
<line x1="623.1" y1="236.1" x2="599.1" y2="223.6" stroke="#555" stroke-width="1.3" stroke-linecap="round"/>
<line x1="599.1" y1="223.6" x2="599.1" y2="198.5" stroke="#555" stroke-width="1.3" stroke-linecap="round"/>
<line x1="602.3" y1="219.84" x2="602.3" y2="202.26" stroke="#555" stroke-width="1.3" stroke-linecap="round"/>
<line x1="599.1" y1="198.5" x2="623.1" y2="185.6" stroke="#555" stroke-width="1.3" stroke-linecap="round"/>
<text x="549" y="184.2" font-size="10" fill="#333" font-weight="normal" text-anchor="middle" >N</text>
<text x="552.5" y="176.5" font-size="7" fill="#333" font-weight="normal" text-anchor="middle" >+</text>
<text x="549.2" y="158.6" font-size="10" fill="#333" font-weight="normal" text-anchor="middle" >H</text>
<line x1="549" y1="160.5" x2="549" y2="175.5" stroke="#555" stroke-width="1.3" />
<line x1="524.9" y1="191.9" x2="543" y2="183" stroke="#555" stroke-width="1.3" />
<line x1="554.5" y1="182.1" x2="571.5" y2="182.1" stroke="#555" stroke-width="1.3" />
<line x1="554.5" y1="178.7" x2="571.5" y2="178.7" stroke="#555" stroke-width="1.3" />
<text x="576.5" y="184.2" font-size="10" fill="#333" font-weight="normal" text-anchor="middle" >N</text>
<line x1="581.5" y1="184" x2="599.1" y2="198.5" stroke="#555" stroke-width="1.3" />
<line x1="646.63" y1="225.12" x2="665.23" y2="234.52" stroke="#555" stroke-width="1.3" />
<line x1="648.17" y1="222.08" x2="666.77" y2="231.48" stroke="#555" stroke-width="1.3" />
<text x="670.8" y="239.8" font-size="10" fill="#333" font-weight="normal" text-anchor="middle" >N</text>
<line x1="676" y1="232" x2="696.9" y2="217.3" stroke="#555" stroke-width="1.3" />
<line x1="670.8" y1="242.5" x2="670.8" y2="260.4" stroke="#555" stroke-width="1.3" />
<text x="517.6" y="242.7" font-size="11.8" fill="#dd9150" font-weight="bold" text-anchor="start" textLength="77.3" lengthAdjust="spacingAndGlyphs" >Methyl Orange</text>
<text x="424.6" y="212" font-size="10" fill="#333" font-weight="normal" text-anchor="middle" >Na</text>
<text x="429.2" y="202.5" font-size="7" fill="#333" font-weight="normal" text-anchor="middle" >+</text>
<text x="451.4" y="234.3" font-size="10" fill="#333" font-weight="normal" text-anchor="middle" >S</text>
<text x="444.5" y="208.9" font-size="10.3" fill="#333" font-weight="normal" text-anchor="middle" >O</text>
<text x="474.8" y="247" font-size="10" fill="#333" font-weight="normal" text-anchor="middle" >O</text>
<text x="423" y="234.3" font-size="10" fill="#333" font-weight="normal" text-anchor="middle" >O</text>
<text x="418" y="229" font-size="7" fill="#333" font-weight="normal" text-anchor="middle" >-</text>
<line x1="429.5" y1="230.6" x2="445" y2="230.6" stroke="#555" stroke-width="1.3" />
<line x1="457" y1="227.3" x2="476.4" y2="218" stroke="#555" stroke-width="1.3" />
<line x1="444.65" y1="211.91" x2="448.25" y2="225.41" stroke="#555" stroke-width="1.3" />
<line x1="447.75" y1="211.09" x2="451.35" y2="224.59" stroke="#555" stroke-width="1.3" />
<line x1="455.31" y1="236.44" x2="468.81" y2="242.94" stroke="#555" stroke-width="1.3" />
<line x1="456.69" y1="233.56" x2="470.19" y2="240.06" stroke="#555" stroke-width="1.3" />
</svg>
</body></html>
